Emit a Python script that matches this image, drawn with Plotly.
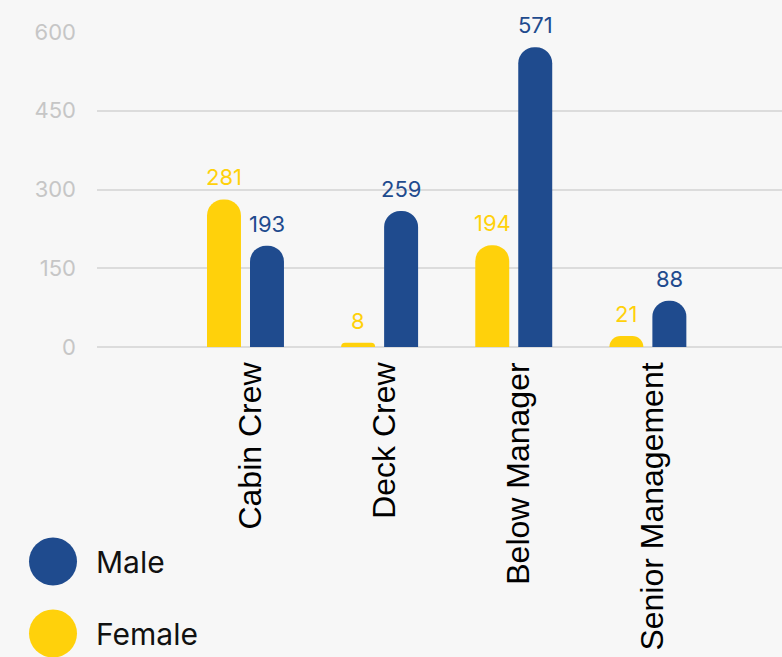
import plotly.graph_objects as go

categories = ["Cabin Crew", "Deck Crew", "Below Manager", "Senior Management"]
female = [281, 8, 194, 21]
male = [193, 259, 571, 88]
series_names = ["Female", "Male"]
series_colors = ["#FFD10B", "#1F4B8E"]
y_ticks = [0, 150, 300, 450, 600]
legend_order = ["Male", "Female"]

FONT = "Inter, Noto Sans, sans-serif"

fig = go.Figure()
offsets = [-21.5, 21.5]
for name, vals, col, off in zip(series_names, [female, male], series_colors, offsets):
    fig.add_trace(go.Bar(
        x=categories, y=vals, name=name,
        marker=dict(color=col, line=dict(width=0)),
        showlegend=False,
    ))
    for c, v in zip(categories, vals):
        fig.add_annotation(x=c, y=v, text=str(v), showarrow=False,
                           xanchor="center", yanchor="bottom",
                           xshift=off, yshift=7,
                           font=dict(color=col, size=22, family=FONT))

# custom legend (large circles)
for i, name in enumerate(legend_order):
    col = series_colors[series_names.index(name)]
    cy = -214.5 - 72 * i
    fig.add_shape(type="circle", xref="paper", yref="paper",
                  xsizemode="pixel", ysizemode="pixel",
                  xanchor=0, yanchor=0,
                  x0=-68, x1=-20, y0=cy - 24, y1=cy + 24,
                  fillcolor=col, line=dict(width=0))
    fig.add_annotation(text=name, xref="paper", yref="paper", x=0, y=0,
                       xanchor="left", yanchor="middle", xshift=-3, yshift=cy,
                       showarrow=False,
                       font=dict(size=30, color="#111111", family=FONT))

fig.update_layout(
    width=782, height=657,
    margin=dict(l=97, r=0, t=32, b=310),
    paper_bgcolor="#f7f7f7", plot_bgcolor="#f7f7f7",
    barmode="group", bargap=0.359, bargroupgap=0.21,
    barcornerradius=17,
    showlegend=False,
    font=dict(family=FONT),
)
fig.update_xaxes(
    range=[-1.107, 4.0], tickangle=-90,
    tickfont=dict(family="Liberation Sans, Arial, sans-serif", size=32, color="#000000"),
    showgrid=False, showline=False, zeroline=False,
    ticklabelstandoff=8, ticklabelshift=5,
)
fig.update_yaxes(
    range=[0, 600], tickvals=y_ticks,
    tickfont=dict(family=FONT, size=22, color="#c6c6c6"),
    gridcolor="#dcdcdc", gridwidth=2,
    zeroline=True, zerolinecolor="#dcdcdc", zerolinewidth=2,
    showline=False, ticklabelstandoff=20,
)

fig.write_html("out.html")
